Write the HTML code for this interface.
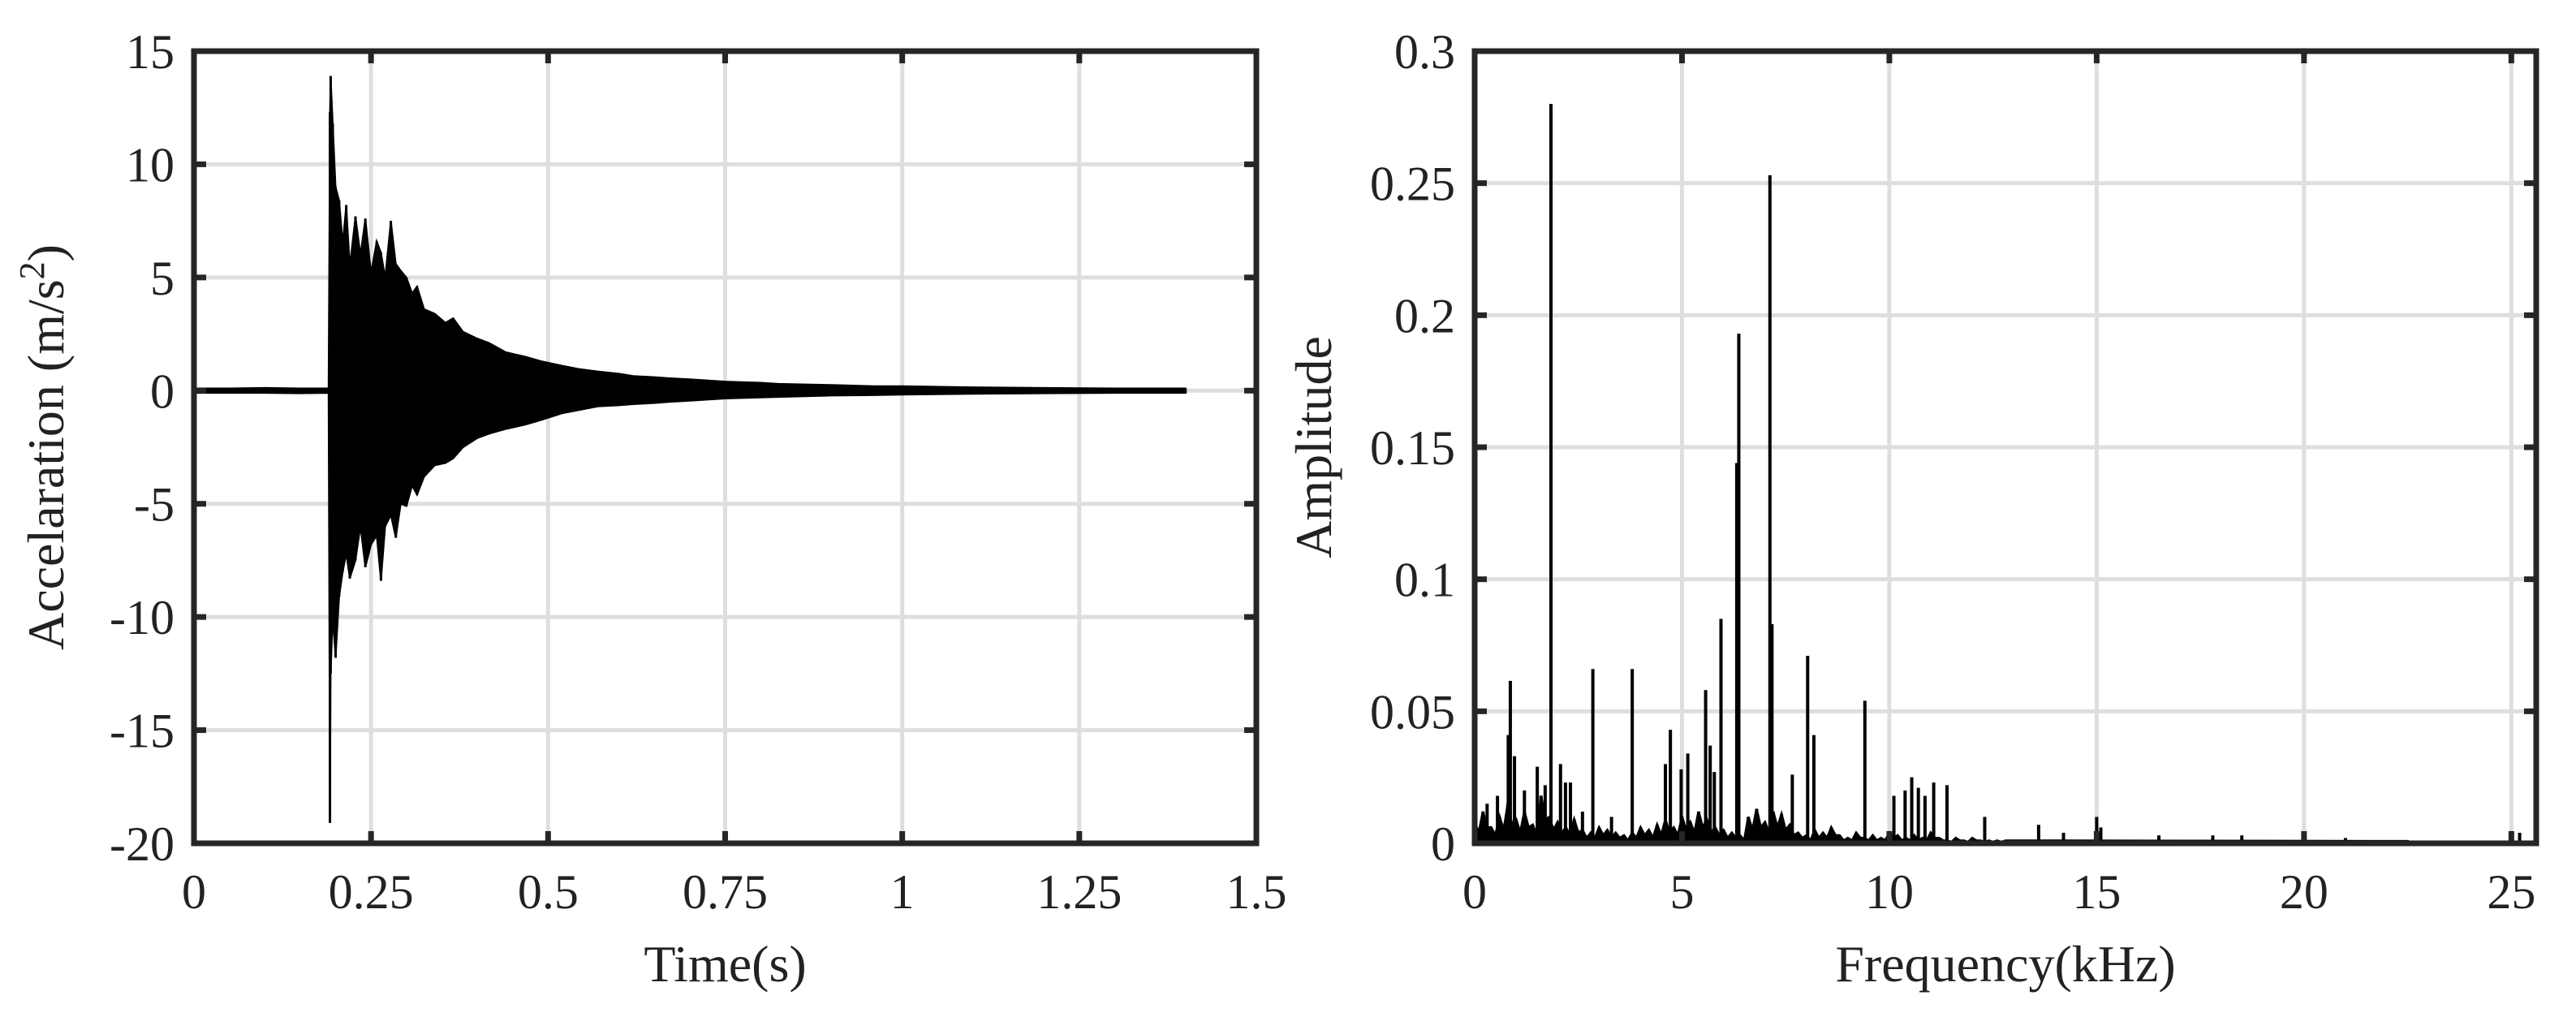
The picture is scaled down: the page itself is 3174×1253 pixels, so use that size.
<!DOCTYPE html>
<html><head><meta charset="utf-8">
<style>
html,body{margin:0;padding:0;background:#fff;}
svg{display:block;font-family:"Liberation Serif",serif;}
</style></head>
<body>
<svg id="fig" width="3174" height="1253" viewBox="0 0 3174 1253" xmlns="http://www.w3.org/2000/svg">
<g id="left"></g>
<g id="right"></g>
</svg>
<script>
// ---- time-domain data ----
const timeTicks = [0, 0.25, 0.5, 0.75, 1, 1.25, 1.5];
const timeTickLabels = ["0", "0.25", "0.5", "0.75", "1", "1.25", "1.5"];
const accTicks = [15, 10, 5, 0, -5, -10, -15, -20];
const accTickLabels = ["15", "10", "5", "0", "-5", "-10", "-15", "-20"];
const envT = [0, 0.05, 0.1, 0.15, 0.19, 0.192, 0.193, 0.196, 0.2, 0.205, 0.21, 0.215, 0.22, 0.228, 0.235, 0.242, 0.25, 0.258, 0.264, 0.27, 0.278, 0.285, 0.292, 0.3, 0.308, 0.315, 0.325, 0.34, 0.355, 0.366, 0.38, 0.4, 0.417, 0.44, 0.468, 0.49, 0.52, 0.545, 0.57, 0.6, 0.62, 0.65, 0.67, 0.7, 0.75, 0.8, 0.825, 0.9, 0.96, 1.0, 1.1, 1.2, 1.3, 1.4];
const envUpper = [0.1, 0.1, 0.12, 0.1, 0.1, 12.3, 13.9, 11.8, 9.0, 8.4, 6.5, 8.2, 5.5, 7.7, 6.0, 7.6, 5.2, 6.6, 6.1, 5.0, 7.5, 5.6, 5.3, 5.0, 4.3, 4.6, 3.6, 3.4, 3.0, 3.2, 2.6, 2.3, 2.1, 1.7, 1.5, 1.3, 1.1, 0.95, 0.85, 0.75, 0.65, 0.6, 0.55, 0.5, 0.4, 0.35, 0.3, 0.25, 0.2, 0.2, 0.15, 0.12, 0.1, 0.1];
const envLower = [-0.1, -0.1, -0.1, -0.12, -0.1, -19.1, -12.5, -10.0, -11.8, -9.1, -8.0, -7.2, -8.3, -7.5, -6.0, -7.8, -6.8, -6.4, -8.4, -6.0, -5.5, -6.5, -5.0, -5.1, -4.2, -4.6, -3.8, -3.3, -3.2, -3.0, -2.5, -2.1, -1.9, -1.7, -1.5, -1.3, -1.0, -0.85, -0.7, -0.65, -0.6, -0.55, -0.5, -0.45, -0.35, -0.3, -0.28, -0.22, -0.2, -0.18, -0.14, -0.12, -0.1, -0.1];

// ---- spectrum data ----
const freqTicks = [0, 5, 10, 15, 20, 25];
const freqTickLabels = ["0", "5", "10", "15", "20", "25"];
const ampTicks = [0.3, 0.25, 0.2, 0.15, 0.1, 0.05, 0];
const ampTickLabels = ["0.3", "0.25", "0.2", "0.15", "0.1", "0.05", "0"];
const floorAmp = [0.008,0.012,0.006,0.010,0.015,0.009,0.012,0.007,0.018,0.010,0.008,0.006,0.009,0.005,0.004,0.006,0.005,0.004,0.003,0.004,0.006,0.005,0.007,0.009,0.006,0.010,0.008,0.012,0.009,0.006,0.005,0.004,0.003,0.010,0.013,0.008,0.012,0.011,0.007,0.004,0.003,0.005,0.004,0.006,0.003,0.002,0.004,0.002,0.003,0.002,0.004,0.003,0.002,0.003,0.002,0.004,0.002,0.001,0.002,0.001,0.002,0.001,0.001,0.001,0.001];
const floorMid = [0.004,0.006,0.003,0.005,0.007,0.004,0.006,0.003,0.009,0.005,0.004,0.003,0.004,0.002,0.002,0.003,0.002,0.002,0.001,0.002,0.003,0.002,0.003,0.004,0.003,0.005,0.004,0.006,0.004,0.003,0.002,0.002,0.001,0.005,0.006,0.004,0.006,0.005,0.003,0.002,0.001,0.002,0.002,0.003,0.001,0.001,0.002,0.001,0.001,0.001,0.002,0.001,0.001,0.001,0.001,0.002,0.001,0.0005,0.001,0.0005,0.001,0.0005,0.0005,0.0005];
const floorStep = 0.2;
const peakFreq = [0.3, 0.55, 0.81, 0.86, 0.96, 1.2, 1.51, 1.7, 1.84, 2.07, 2.19, 2.31, 2.6, 2.85, 3.3, 3.80, 4.6, 4.72, 4.98, 5.14, 5.57, 5.68, 5.78, 5.94, 6.32, 6.37, 7.12, 7.17, 7.66, 8.03, 8.18, 9.41, 10.11, 10.38, 10.54, 10.70, 10.86, 11.07, 11.39, 12.3, 13.6, 14.2, 15.0, 15.1, 16.5, 17.8, 18.5, 20.0, 21.0, 25.2];
const peakAmp  = [0.015, 0.018, 0.041, 0.0615, 0.033, 0.020, 0.029, 0.022, 0.28, 0.030, 0.023, 0.023, 0.012, 0.066, 0.010, 0.066, 0.030, 0.043, 0.028, 0.034, 0.058, 0.037, 0.027, 0.085, 0.144, 0.193, 0.253, 0.083, 0.026, 0.071, 0.041, 0.054, 0.018, 0.020, 0.025, 0.021, 0.018, 0.023, 0.022, 0.010, 0.007, 0.004, 0.010, 0.006, 0.003, 0.003, 0.003, 0.004, 0.002, 0.004];

const NS = "http://www.w3.org/2000/svg";
function mk(parent, tag, attrs) {
  const e = document.createElementNS(NS, tag);
  for (const k in attrs) e.setAttribute(k, attrs[k]);
  parent.appendChild(e);
  return e;
}

function axesFrame(g, box, xTicks, yTicks, sx, sy, prefix) {
  xTicks.forEach((v) => {
    const x = sx(v);
    if (x > box.x0 + 4 && x < box.x1 - 4) {
      const l = mk(g, "line", {x1: x, x2: x, y1: box.y0, y2: box.y1, stroke: "#dedede", "stroke-width": 5});
      
      
    }
  });
  yTicks.forEach((v) => {
    const y = sy(v);
    if (y > box.y0 + 4 && y < box.y1 - 4) {
      const l = mk(g, "line", {x1: box.x0, x2: box.x1, y1: y, y2: y, stroke: "#dedede", "stroke-width": 5});
      
      
    }
  });
}

function axesOverlay(g, box, xTicks, xLabels, yTicks, yLabels, sx, sy, xTitle, yTitleX, prefix) {
  const frame = mk(g, "rect", {x: box.x0, y: box.y0, width: box.x1 - box.x0, height: box.y1 - box.y0, fill: "none", stroke: "#262626", "stroke-width": 7});
  
  
  xTicks.forEach((v, i) => {
    const x = sx(v);
    const t1 = mk(g, "line", {x1: x, x2: x, y1: box.y1, y2: box.y1 - 15, stroke: "#262626", "stroke-width": 7});
    
    
    const t2 = mk(g, "line", {x1: x, x2: x, y1: box.y0, y2: box.y0 + 15, stroke: "#262626", "stroke-width": 7});
    
    
    const tx = mk(g, "text", {x: x, y: box.y1 + 80, "font-size": 60, "text-anchor": "middle", fill: "#222"});
    tx.textContent = xLabels[i];
    
    
  });
  yTicks.forEach((v, i) => {
    const y = sy(v);
    const t1 = mk(g, "line", {x1: box.x0, x2: box.x0 + 15, y1: y, y2: y, stroke: "#262626", "stroke-width": 7});
    
    
    const t2 = mk(g, "line", {x1: box.x1, x2: box.x1 - 15, y1: y, y2: y, stroke: "#262626", "stroke-width": 7});
    
    
    const tx = mk(g, "text", {x: box.x0 - 24, y: y + 21, "font-size": 60, "text-anchor": "end", fill: "#222"});
    tx.textContent = yLabels[i];
    
    
  });
  const xt = mk(g, "text", {x: (box.x0 + box.x1) / 2, y: box.y1 + 170, "font-size": 64, "text-anchor": "middle", fill: "#222"});
  xt.textContent = xTitle;
  
  
  const cy = (box.y0 + box.y1) / 2;
  const yt = mk(g, "text", {x: yTitleX, y: cy, "font-size": 64, "text-anchor": "middle", fill: "#222", transform: "rotate(-90 " + yTitleX + " " + cy + ")"});
  
  
  return yt;
}

// ---- left chart ----
(function () {
  const g = document.getElementById("left");
  const box = {x0: 239, x1: 1548, y0: 63, y1: 1039};
  const sx = (t) => box.x0 + (t - 0) / (1.5 - 0) * (box.x1 - box.x0);
  const sy = (v) => box.y0 + (15 - v) / (15 - (-20)) * (box.y1 - box.y0);
  axesFrame(g, box, timeTicks, accTicks, sx, sy, "time");
  let pts = [];
  for (let i = 0; i < envT.length; i++) pts.push(sx(envT[i]).toFixed(1) + "," + sy(envUpper[i]).toFixed(1));
  for (let i = envT.length - 1; i >= 0; i--) pts.push(sx(envT[i]).toFixed(1) + "," + sy(envLower[i]).toFixed(1));
  const band = mk(g, "polygon", {points: pts.join(" "), fill: "#000", stroke: "#000", "stroke-width": 2});
  
  
  for (let i = 0; i < envT.length; i++) {
    const l = mk(g, "line", {x1: sx(envT[i]), x2: sx(envT[i]), y1: sy(envUpper[i]), y2: sy(envLower[i]), stroke: "#000", "stroke-width": 3});
    
    
  }
  const yt = axesOverlay(g, box, timeTicks, timeTickLabels, accTicks, accTickLabels, sx, sy, "Time(s)", 78, "time");
  yt.innerHTML = 'Accelaration (m/s<tspan dy="-24" font-size="44">2</tspan><tspan dy="24">)</tspan>';
})();

// ---- right chart ----
(function () {
  const g = document.getElementById("right");
  const box = {x0: 1817, x1: 3125, y0: 63, y1: 1039};
  const sx = (f) => box.x0 + (f - 0) / (25.6 - 0) * (box.x1 - box.x0);
  const sy = (a) => box.y0 + (0.3 - a) / (0.3 - 0) * (box.y1 - box.y0);
  axesFrame(g, box, freqTicks, ampTicks, sx, sy, "freq");
  let pts = [sx(0).toFixed(1) + "," + sy(0).toFixed(1)];
  for (let i = 0; i < floorAmp.length; i++) {
    const f = i * floorStep;
    pts.push(sx(f).toFixed(1) + "," + sy(floorAmp[i]).toFixed(1));
    if (i < floorMid.length) pts.push(sx(f + floorStep / 2).toFixed(1) + "," + sy(floorMid[i]).toFixed(1));
    const l = mk(g, "line", {x1: sx(f), x2: sx(f), y1: sy(0), y2: sy(floorAmp[i]), stroke: "#000", "stroke-width": 4});
    
    
  }
  pts.push(sx(22.5).toFixed(1) + "," + sy(0.0008).toFixed(1));
  pts.push(sx(22.5).toFixed(1) + "," + sy(0).toFixed(1));
  const floorLine = mk(g, "polygon", {points: pts.join(" "), fill: "#000", stroke: "#000", "stroke-width": 3});
  
  
  for (let i = 0; i < peakFreq.length; i++) {
    const l = mk(g, "line", {x1: sx(peakFreq[i]), x2: sx(peakFreq[i]), y1: sy(0), y2: sy(peakAmp[i]), stroke: "#000", "stroke-width": 4});
    
    
  }
  const yt = axesOverlay(g, box, freqTicks, freqTickLabels, ampTicks, ampTickLabels, sx, sy, "Frequency(kHz)", 1640, "freq");
  yt.textContent = "Amplitude";
})();
</script>
</body></html>
